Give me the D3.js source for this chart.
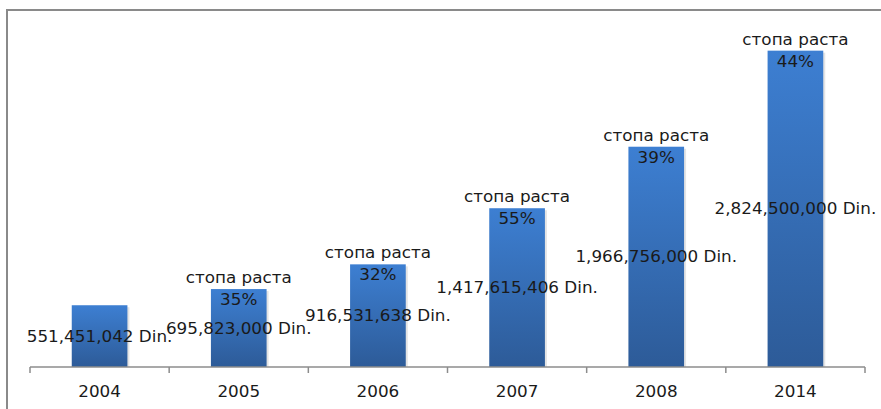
<!DOCTYPE html>
<html>
<head>
<meta charset="utf-8">
<script src="https://cdn.jsdelivr.net/npm/d3@7"></script>
<style>
    html, body { margin: 0; padding: 0; background: #fff; }
    svg { display: block; }
    text { font-family: "DejaVu Sans", sans-serif; font-size: 16px; fill: #1a1a1a; }
</style>
</head>
<body>
<svg id="chart" width="881" height="409"></svg>
<script>
"use strict";

const years = ["2004", "2005", "2006", "2007", "2008", "2014"];
const values = [551451042, 695823000, 916531638, 1417615406, 1966756000, 2824500000];
const growth = [null, 35, 32, 55, 39, 44];
const growthLabel = "стопа раста";
const unit = "Din.";

{
    const svg = d3.select("#chart"),
        w = 881,
        h = 409,
        stretch = "scale(1.05,1)";

    const x = d3.scaleBand()
        .domain(years).range([30, 865]);
    const y = d3.scaleLinear()
        .domain([0, 3e9]).range([367, 31]);

    const barW = x.bandwidth() * 0.4;
    const fmt = d3.format(",");

    // gradient for the bars
    const grad = svg.append("defs").append("linearGradient")
        .attr("id", "barFill")
        .attr("x1", 0).attr("y1", 0).attr("x2", 0).attr("y2", 1);
    grad.append("stop").attr("offset", "0%").attr("stop-color", "#3d7fd2");
    grad.append("stop").attr("offset", "100%").attr("stop-color", "#2d5b98");

    // frame (cropped chart area border)
    svg.append("path")
        .attr("d", `M7,${h}V10H${w}`)
        .attr("fill", "none")
        .attr("stroke", "#8a8a8a")
        .attr("stroke-width", 2);

    const data = years.map((year, i) => ({year, value: values[i], rate: growth[i]}));

    // soft shadow on the right side of the bars
    svg.selectAll("rect.shadow")
        .data(data)
        .join("rect")
        .attr("class", "shadow")
        .attr("x", d => x(d.year) + (x.bandwidth() - barW) / 2 + 2)
        .attr("y", d => y(d.value) + 2)
        .attr("width", barW)
        .attr("height", d => y(0) - y(d.value) - 2)
        .attr("fill", "#e4e4e4");

    svg.selectAll("rect.bar")
        .data(data)
        .join("rect")
        .attr("class", "bar")
        .attr("x", d => x(d.year) + (x.bandwidth() - barW) / 2)
        .attr("y", d => y(d.value))
        .attr("width", barW)
        .attr("height", d => y(0) - y(d.value))
        .attr("fill", "url(#barFill)");

    // category axis with ticks between categories
    const axis = svg.append("g").attr("stroke", "#8c8c8c").attr("stroke-width", 1.5);
    axis.append("line")
        .attr("x1", x.range()[0]).attr("x2", x.range()[1])
        .attr("y1", y(0)).attr("y2", y(0));
    const edges = years.map(d => x(d)).concat([x.range()[1]]);
    axis.selectAll("line.tick")
        .data(edges)
        .join("line")
        .attr("class", "tick")
        .attr("x1", d => d).attr("x2", d => d)
        .attr("y1", y(0)).attr("y2", y(0) + 6);

    const cx = d => x(d.year) + x.bandwidth() / 2;

    svg.selectAll("text.year")
        .data(data)
        .join("text")
        .attr("class", "year")
        .attr("text-anchor", "middle")
        .attr("transform", d => `translate(${cx(d)},397) ${stretch}`)
        .text(d => d.year);

    // growth rate labels
    const rated = data.filter(d => d.rate !== null);
    svg.selectAll("text.rateName")
        .data(rated)
        .join("text")
        .attr("class", "rateName")
        .attr("text-anchor", "middle")
        .attr("transform", d => `translate(${cx(d)},${y(d.value) - 6}) ${stretch}`)
        .text(growthLabel);

    svg.selectAll("text.rate")
        .data(rated)
        .join("text")
        .attr("class", "rate")
        .attr("text-anchor", "middle")
        .attr("transform", d => `translate(${cx(d)},${y(d.value) + 16}) ${stretch}`)
        .text(d => `${d.rate}%`);

    // value labels centred on the bar
    svg.selectAll("text.value")
        .data(data)
        .join("text")
        .attr("class", "value")
        .attr("text-anchor", "middle")
        .attr("transform", d => `translate(${cx(d)},${(y(d.value) + y(0)) / 2 + 5.5}) ${stretch}`)
        .text(d => `${fmt(d.value)} ${unit}`);
}
</script>
</body>
</html>
